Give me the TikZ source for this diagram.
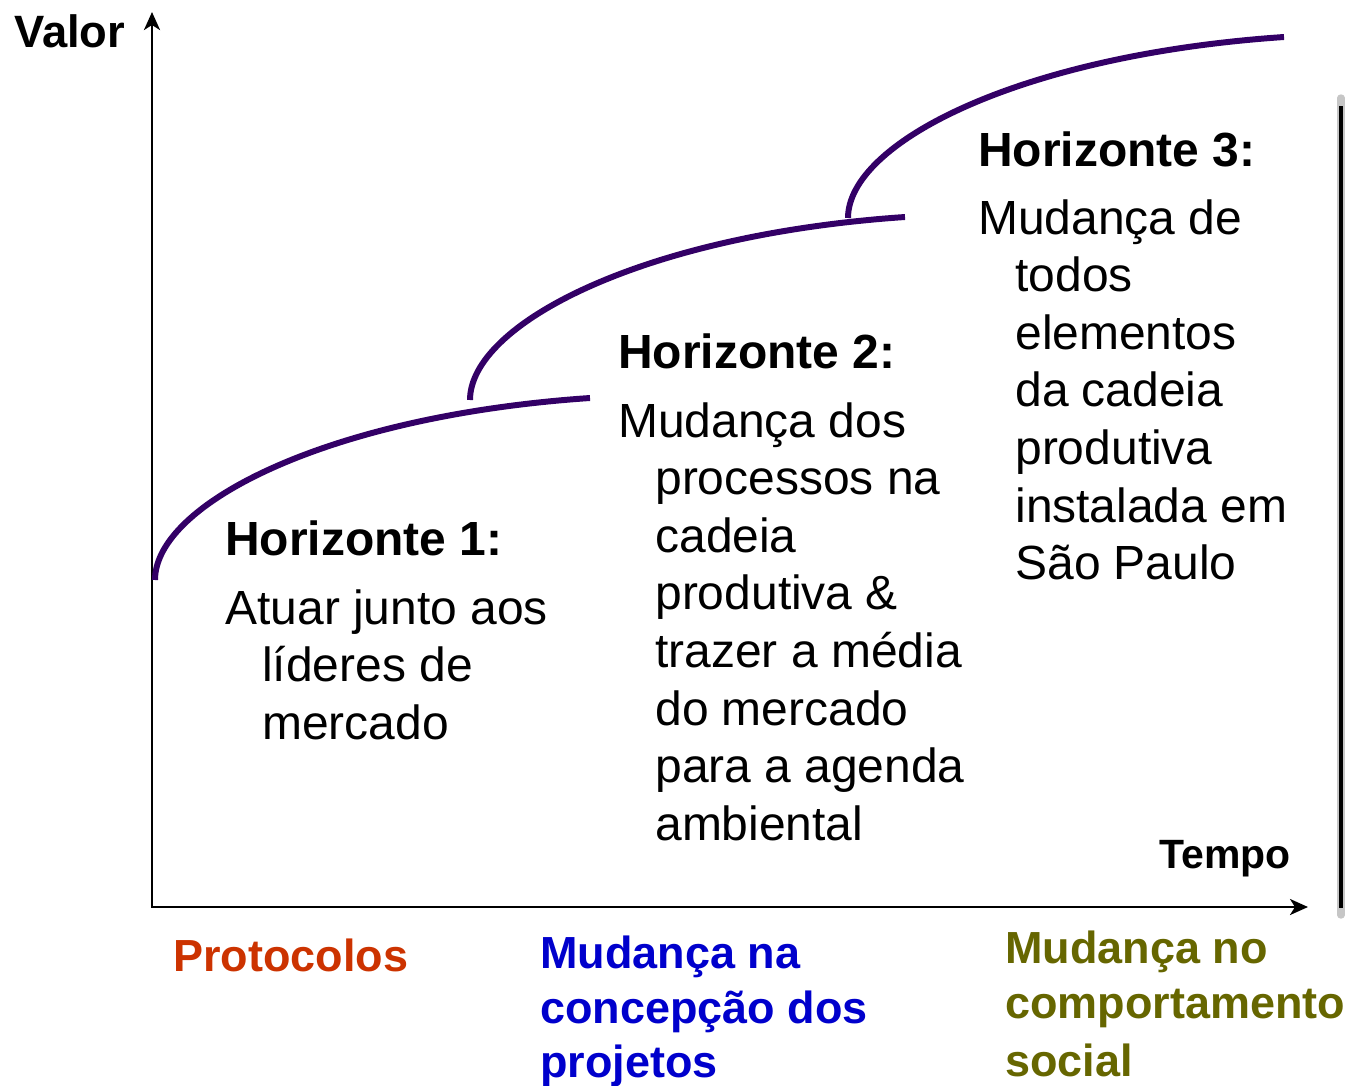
\documentclass[tikz,border=0pt]{standalone}
\usepackage{fontspec}
\setmainfont{Liberation Sans}
\usetikzlibrary{arrows.meta}
\definecolor{roxo}{RGB}{51,0,102}
\definecolor{laranja}{RGB}{204,51,0}
\definecolor{azul}{RGB}{0,0,204}
\definecolor{oliva}{RGB}{102,102,0}
\newcommand{\textofont}{\fontsize{27.3}{32.8}\selectfont}
\newcommand{\rotulofont}{\fontsize{25.6}{31.3}\selectfont\bfseries}
\newcommand{\bloco}[2][0.74cm]{\parbox[t]{9cm}{\noindent\hangindent=#1\hangafter=1 #2}}
\tikzset{
	curva/.style={draw=roxo, line width=3.4pt},
	eixo/.style={line width=1.6pt, {Stealth[length=0.36cm,width=0.32cm,inset=0.1cm]}-{Stealth[length=0.36cm,width=0.32cm,inset=0.1cm]}},
	titulo/.style={anchor=base west, inner sep=0pt, font=\textofont\bfseries},
	texto/.style={anchor=base west, inner sep=0pt, font=\textofont},
	rotulo/.style={anchor=base west, inner sep=0pt, font=\rotulofont}
}
\begin{document}
\begin{tikzpicture}[x=0.02cm, y=-0.02cm]
	\useasboundingbox (0,0) rectangle (1345,1085);
	% eixos
	\coordinate (O) at (152,907);
	\coordinate (ytop) at (152,12);
	\coordinate (xend) at (1308,907);
	\draw[eixo] (ytop) -- (O) -- (xend);
	\node[anchor=base west, inner sep=0pt, font=\fontsize{25.8}{30}\selectfont\bfseries] (valor) at (14,47) {Valor};
	\node[anchor=base west, inner sep=0pt, font=\fontsize{23.3}{28}\selectfont\bfseries] (tempo) at (1159,868) {Tempo};

	% barra lateral
	\draw[gray!45, line width=4.2pt, line cap=round] (1341,98) -- (1341,915);
	\draw[black, line width=2.6pt] (1341,106) -- (1341,908);

	% curvas
	\coordinate (c1a) at (155,580); \coordinate (c1b) at (590,398);
	\coordinate (c2a) at (470,400); \coordinate (c2b) at (905,217);
	\coordinate (c3a) at (848,218); \coordinate (c3b) at (1284,37);
	\draw[curva] (c1a) .. controls +(0,-75) and +(-265,18) .. (c1b);
	\draw[curva] (c2a) .. controls +(0,-75) and +(-265,18) .. (c2b);
	\draw[curva] (c3a) .. controls +(0,-75) and +(-265,18) .. (c3b);

	% horizonte 1
	\node[titulo] (h1tit) at (225,555) {Horizonte 1:};
	\node[texto] (h1txt) at (225,624) {\bloco{Atuar junto aos\\l\'ideres de\\mercado}};

	% horizonte 2
	\node[titulo] (h2tit) at (618,368) {Horizonte 2:};
	\node[texto] (h2txt) at (618,437) {\bloco{Mudança dos\\processos na\\cadeia\\produtiva \&\\trazer a média\\do mercado\\para a agenda\\ambiental}};

	% horizonte 3
	\node[titulo] (h3tit) at (978,166) {Horizonte 3:};
	\node[texto] (h3txt) at (978,234) {\bloco{Mudança de\\todos\\elementos\\da cadeia\\produtiva\\instalada em\\São Paulo}};

	% rotulos
	\node[rotulo, text=laranja] (prot) at (173,971) {Protocolos};
	\node[rotulo, text=azul] (proj) at (540,968) {\bloco[0pt]{Mudança na\\concepção dos\\projetos}};
	\node[rotulo, text=oliva] (soc) at (1005,963) {\bloco[0pt]{Mudança no\\comportamento\\[0.08cm]social}};
\end{tikzpicture}
\end{document}
